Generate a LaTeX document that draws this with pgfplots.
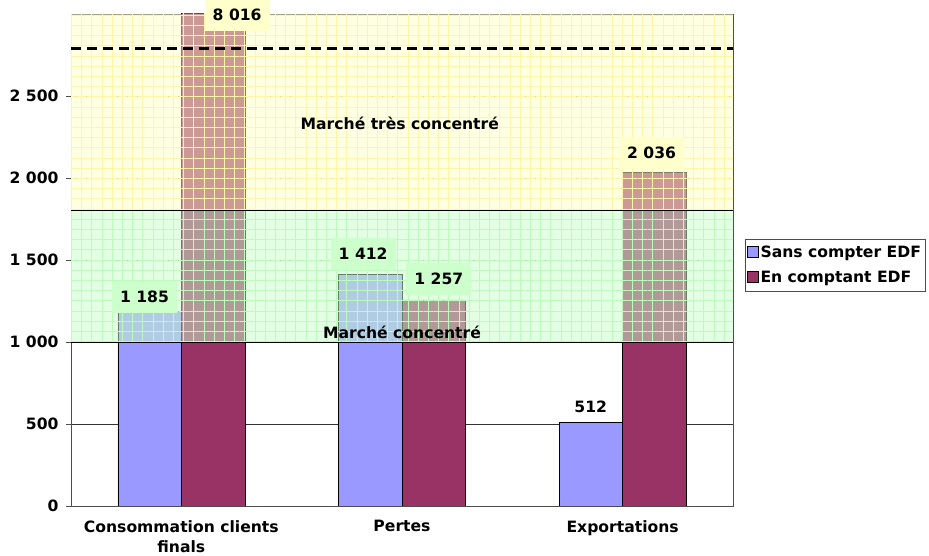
\documentclass[border=0pt]{standalone}
\usepackage{fontspec}
\setmainfont{DejaVu Sans}
\usepackage{pgfplots}
\pgfplotsset{compat=1.18}
\usetikzlibrary{patterns.meta}
\definecolor{barblue}{RGB}{153,153,255}
\definecolor{barred}{RGB}{153,51,102}
\definecolor{bandyellow}{RGB}{255,255,195}
\definecolor{bandgreen}{RGB}{200,255,200}
\definecolor{lineyellow}{RGB}{255,245,170}
\definecolor{linegreen}{RGB}{190,250,190}
\definecolor{boxyellow}{RGB}{255,255,204}
\definecolor{boxgreen}{RGB}{204,255,204}
\newcommand{\cf}{\fontsize{15.6}{20}\selectfont\bfseries}
\begin{document}
\begin{tikzpicture}[font=\cf]
\useasboundingbox (0,0) rectangle (929pt,556pt);
\begin{axis}[
  at={(71pt,50pt)}, anchor=south west,
  width=662pt, height=492pt, scale only axis,
  xmin=-0.5, xmax=2.5, ymin=0, ymax=3000,
  ybar=0pt, bar width=63.5pt,
  clip mode=individual,
  xtick={0,1,2},
  xticklabels={{Consommation clients\\finals},Pertes,Exportations},
  xticklabel style={align=center, font=\cf, yshift=-6pt},
  x tick style={draw=none},
  extra x ticks={0.5,1.5},
  extra x tick labels={},
  extra x tick style={grid=none, major tick length=5pt, tick align=outside, tick style={draw=gray!60!black}},
  ytick={0,500,1000,1500,2000,2500},
  yticklabels={0,500,1 000,1 500,2 000,2 500},
  yticklabel style={font=\cf, xshift=-4pt},
  ymajorgrids, grid style={black!80, line width=0.5pt},
  y tick style={draw=gray!60!black},
  major tick length=5pt,
  tick align=outside, tick pos=left,
  axis line style={gray!60!black},
  legend style={at={(1.018,0.49)}, anchor=west, draw=black!70, fill=white,
    font=\cf, inner xsep=2pt, inner ysep=5pt, row sep=8pt},
  legend cell align=left,
]
\addplot[fill=barblue, draw=black, legend image code/.code={\draw[fill=barblue, draw=black] (0pt,-5pt) rectangle (11pt,6pt);}]
  coordinates {(0,1185) (1,1412) (2,512)};
\addplot[fill=barred, draw=black, legend image code/.code={\draw[fill=barred, draw=black] (0pt,-5pt) rectangle (11pt,6pt);}]
  coordinates {(0,8016) (1,1257) (2,2036)};
\legend{Sans compter EDF, En comptant EDF}
\fill[bandyellow, fill opacity=0.5] (axis cs:-0.5,1800) rectangle (axis cs:2.5,3000);
\fill[bandgreen, fill opacity=0.5] (axis cs:-0.5,1000) rectangle (axis cs:2.5,1800);
\fill[pattern={Lines[distance=10.2pt, angle=0, line width=1pt]}, pattern color=lineyellow, fill opacity=0.4] (axis cs:-0.5,1800) rectangle (axis cs:2.5,3000);
\fill[pattern={Lines[distance=10.2pt, angle=90, line width=1pt]}, pattern color=lineyellow, fill opacity=0.4] (axis cs:-0.5,1800) rectangle (axis cs:2.5,3000);
\fill[pattern={Lines[distance=10.2pt, angle=0, line width=1pt]}, pattern color=linegreen, fill opacity=0.4] (axis cs:-0.5,1000) rectangle (axis cs:2.5,1800);
\fill[pattern={Lines[distance=10.2pt, angle=90, line width=1pt]}, pattern color=linegreen, fill opacity=0.4] (axis cs:-0.5,1000) rectangle (axis cs:2.5,1800);
\draw[black, line width=0.7pt] (axis cs:-0.5,1000) -- (axis cs:2.5,1000);
\draw[black, line width=0.7pt] (axis cs:-0.5,1800) -- (axis cs:2.5,1800);
\draw[black, line width=2.6pt, dash pattern=on 10pt off 6pt] (axis cs:-0.5,2790) -- (axis cs:2.5,2790);
\node at (axis cs:0.99,2330) {Marché très concentré};
\node at (axis cs:1,1060) {Marché concentré};
\node[fill=boxgreen, inner xsep=8pt, minimum height=32pt] at (axis cs:-0.167,1275) {1 185};
\node[fill=boxyellow, inner xsep=8pt, minimum height=32pt] at (axis cs:0.253,2995) {8 016};
\node[fill=boxgreen, inner xsep=8pt, minimum height=32pt] at (axis cs:0.824,1538) {1 412};
\node[fill=boxgreen, inner xsep=8pt, minimum height=32pt] at (axis cs:1.167,1385) {1 257};
\node[inner xsep=8pt, minimum height=32pt] at (axis cs:1.855,607) {512};
\node[fill=boxyellow, inner xsep=8pt, minimum height=32pt] at (axis cs:2.131,2151) {2 036};
\end{axis}
\end{tikzpicture}
\end{document}
